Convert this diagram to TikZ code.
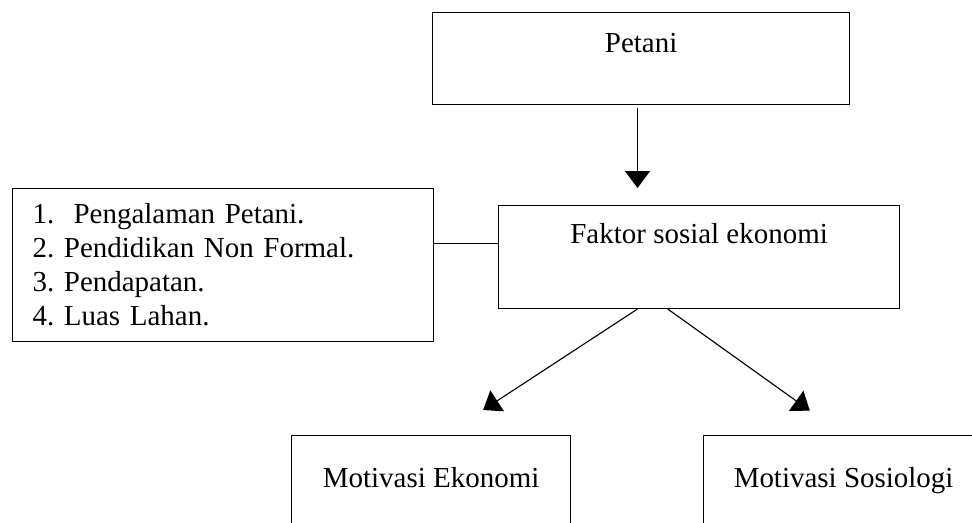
\documentclass[tikz,border=0pt]{standalone}
\usepackage{fontspec}
\setmainfont{Liberation Serif}
\usetikzlibrary{arrows.meta}
\frenchspacing

\tikzset{
  kotak/.style={draw, line width=0.8pt, inner sep=0pt, anchor=north west,
    font=\fontsize{20.6}{24.2}\selectfont},
  panah/.style={line width=0.8pt, -{Triangle[width=0.62cm,length=0.42cm]}}
}

\begin{document}
\begin{tikzpicture}[x=0.025cm,y=-0.025cm]
\path[use as bounding box, clip] (0,0) rectangle (972,522);

% top one
\node[kotak, minimum width=10.425cm, text height=1.0cm, text depth=1.3cm] (petani) at (432,12) {Petani};

% middle one
\node[kotak, minimum width=10.025cm, text height=0.95cm, text depth=1.625cm] (faktor) at (498,205) {Faktor sosial ekonomi};

% left one
\node[kotak, inner xsep=0.5cm, text width=9.525cm, minimum height=3.825cm, align=left] (faktorlist) at (12,188)
  {1.\ \ Pengalaman Petani.\\2. Pendidikan Non Formal.\\3. Pendapatan.\\4. Luas Lahan.};

% bottom ones
\node[kotak, minimum width=6.975cm, text height=1.3cm, text depth=2.5cm] (ekonomi) at (291,435) {Motivasi Ekonomi};
\node[kotak, minimum width=7.0cm, text height=1.3cm, text depth=2.5cm] (sosiologi) at (703,435) {Motivasi Sosiologi};

% connectors
\coordinate (p1) at ([xshift=-0.09cm,yshift=-0.075cm]petani.south);
\draw[panah, shorten >=0.425cm] (p1) -- (p1 |- faktor.north);
\draw[line width=0.8pt] (faktor.base west -| faktorlist.east) -- (faktor.base west);
\draw[panah] ([xshift=-1.545cm]faktor.south) -- ([xshift=1.3cm,yshift=0.625cm]ekonomi.north);
\draw[panah] ([xshift=-0.78cm]faktor.south) -- ([xshift=-0.845cm,yshift=0.61cm]sosiologi.north);

\end{tikzpicture}
\end{document}
